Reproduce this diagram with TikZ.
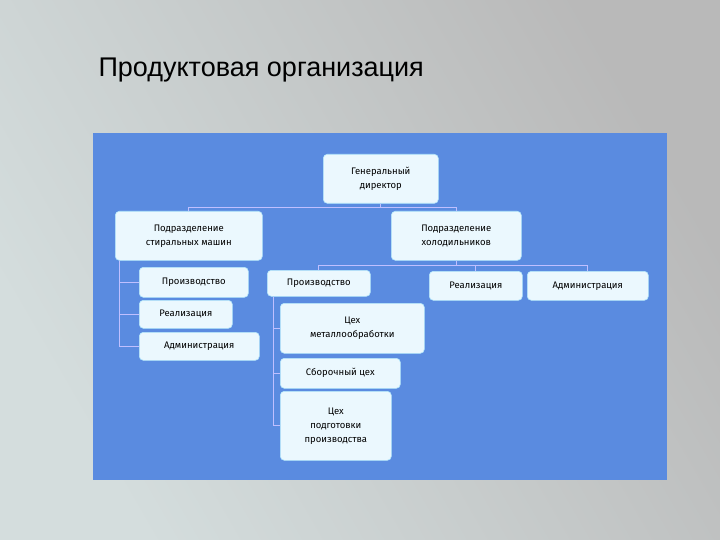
\documentclass[tikz,border=0pt]{standalone}
\usepackage{fontspec}
\setmainfont{Liberation Sans}
\newfontfamily\boxfont{Fira Sans}
\begin{document}
\begin{tikzpicture}[x=1pt,y=-1pt,
  bx/.style={draw=white!70!cyan,line width=0.6pt,rounded corners=4pt,fill=cyan!8!white,inner sep=0pt,font=\boxfont\fontsize{9.5}{14}\selectfont,align=center,anchor=north west},
  ln/.style={draw=white!75!blue,line width=0.8pt}]
\shade[left color=cyan!12!gray!30!white, right color=gray!55!white, shading angle=120] (0,0) rectangle (720,540);
\useasboundingbox (0,0) rectangle (720,540);
\node[font=\fontsize{27}{30}\selectfont,anchor=west] (title) at (95,70) {Продуктовая организация};
\fill[fill={rgb,255:red,90;green,139;blue,224}] (93,133) rectangle (667,480);
\def\B#1#2#3#4#5#6{\node[bx,minimum width=#4-#2,minimum height=#5-#3] (#1) at (#2,#3) {#6};}
\B{gen}{323}{154}{438}{203}{Генеральный\\директор}
\B{st}{115}{211}{262}{260}{Подразделение\\стиральных машин}
\B{hol}{391}{211}{521}{260}{Подразделение\\холодильников}
\B{p1}{139}{267}{248}{297}{Производство}
\B{r1}{139}{300}{232}{328}{Реализация}
\B{a1}{139}{332}{259}{360}{Администрация}
\B{p2}{267}{270}{370}{296}{Производство}
\B{c1}{280}{303}{424}{353}{Цех\\металлообработки}
\B{sb}{280}{358}{400}{388}{Сборочный цех}
\B{c3}{280}{391}{391}{460}{Цех\\подготовки\\производства}
\B{r2}{429}{271}{522}{300}{Реализация}
\B{a2}{527}{271}{648}{300}{Администрация}
\begin{scope}[on background layer/.try]
\draw[ln] (gen.south) -- ++(0,4) -| (st.north);
\draw[ln] (gen.south) ++(0,4) -| (hol.north);
\draw[ln] (hol.south) -- ++(0,5) -| (p2.north);
\draw[ln] (hol.south) ++(0,5) -| (r2.north);
\draw[ln] (hol.south) ++(0,5) -| (a2.north);
\draw[ln] (st.south west) ++(4,0) |- (p1.west);
\draw[ln] (st.south west) ++(4,0) |- (r1.west);
\draw[ln] (st.south west) ++(4,0) |- (a1.west);
\draw[ln] (p2.south west) ++(6,0) |- (c1.west);
\draw[ln] (p2.south west) ++(6,0) |- (sb.west);
\draw[ln] (p2.south west) ++(6,0) |- (c3.west);
\end{scope}
\end{tikzpicture}
\end{document}
